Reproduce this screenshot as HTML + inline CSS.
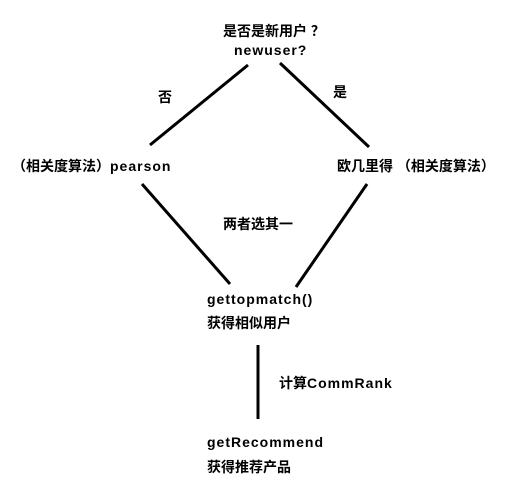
<!DOCTYPE html>
<html><head><meta charset="utf-8"><style>
html,body{margin:0;padding:0;background:#fff;width:526px;height:489px;overflow:hidden;position:relative}
.t{position:absolute;font-family:"Liberation Sans","Noto Sans CJK SC",sans-serif;font-weight:bold;font-size:14px;color:#000;white-space:nowrap;line-height:16px}
.l{letter-spacing:1px}
svg{position:absolute;left:0;top:0}
</style></head><body>
<svg width="526" height="489"><g stroke="#000" stroke-width="3" fill="none">
<line x1="248" y1="65" x2="150" y2="145"/>
<line x1="280" y1="63" x2="369" y2="147"/>
<line x1="142" y1="184" x2="230" y2="284"/>
<line x1="367" y1="184" x2="296" y2="287"/>
<line x1="258" y1="345" x2="258" y2="419"/>
</g></svg>
<div class="t" style="left:223px;top:23px">是否是新用户 ？</div>
<div class="t" style="left:234px;top:42px"><span class="l">newuser?</span></div>
<div class="t" style="left:158px;top:89px">否</div>
<div class="t" style="left:333px;top:84px">是</div>
<div class="t" style="left:12px;top:158px">（相关度算法）<span class="l">pearson</span></div>
<div class="t" style="left:337px;top:158px">欧几里得 （相关度算法）</div>
<div class="t" style="left:223px;top:216px">两者选其一</div>
<div class="t" style="left:207px;top:291px"><span class="l">gettopmatch()</span></div>
<div class="t" style="left:207px;top:315px">获得相似用户</div>
<div class="t" style="left:279px;top:375px">计算<span class="l">CommRank</span></div>
<div class="t" style="left:207px;top:434px"><span class="l">getRecommend</span></div>
<div class="t" style="left:207px;top:459px">获得推荐产品</div>
</body></html>
